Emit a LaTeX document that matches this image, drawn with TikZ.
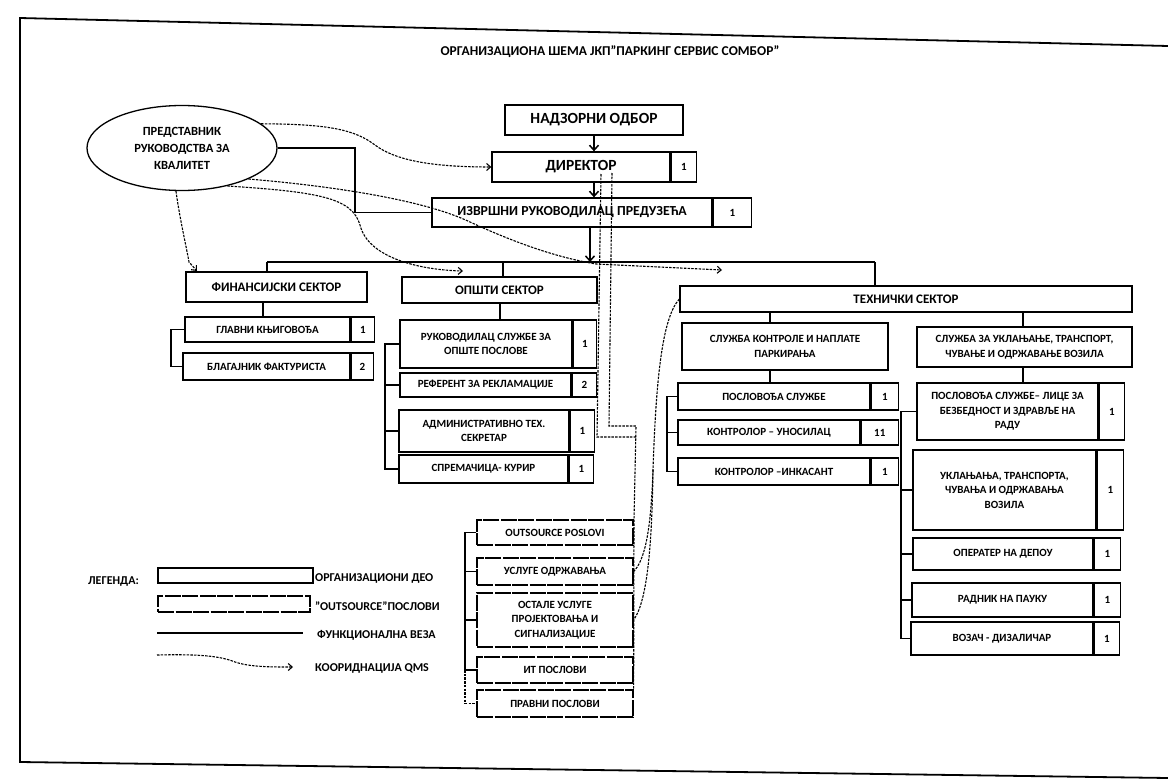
\documentclass[tikz,border=0pt]{standalone}
\usepackage{fontspec}
\setmainfont{Carlito}
\usetikzlibrary{arrows.meta,shapes.geometric}
\newcommand\nbox[8]{%
  \node[box, minimum width=#4pt, minimum height=#5pt] (#1) at (#2,#3) {#7};
  \node[numbox, minimum width=#6pt, minimum height=#5pt] (#1n) at (#1.east) {#8};}
\begin{document}
\begin{tikzpicture}[x=1pt,y=-1pt,
  box/.style={draw, line width=1.3pt, inner sep=1pt, align=center, font=\bfseries\fontsize{11}{14.5}\selectfont},
  bigbox/.style={box, font=\bfseries\fontsize{15.5}{17}\selectfont},
  secbox/.style={box, font=\bfseries\fontsize{13}{15}\selectfont},
  numbox/.style={draw, line width=1.3pt, inner sep=0pt, anchor=west, font=\bfseries\fontsize{11}{12}\selectfont},
  outbox/.style={draw, line width=1.3pt, dash pattern=on 16pt off 1.5pt, inner sep=1pt, align=center, font=\bfseries\fontsize{11}{14.5}\selectfont},
  conn/.style={line width=1.5pt},
  arr/.style={conn, -{Straight Barb[length=5pt,width=9pt]}},
  qms/.style={line width=1.1pt, dash pattern=on 2.5pt off 1.2pt},
  qarr/.style={qms, -{Straight Barb[length=4pt,width=7pt]}},
  lbl/.style={anchor=west, inner sep=0pt, font=\bfseries\fontsize{12}{13}\selectfont},
]
\useasboundingbox (0,0) rectangle (1168,784);
\fill[white] (0,0) rectangle (1168,784);
% frame
\draw[line width=1.8pt] (1168,46) -- (20,18) -- (20,762) -- (1168,778);

% title
\node[font=\bfseries\fontsize{13.5}{15}\selectfont] (title) at (610,52) {ОРГАНИЗАЦИОНА ШЕМА ЈКП"ПАРКИНГ СЕРВИС СОМБОР”};

% top management
\node[bigbox, minimum width=178pt, minimum height=30pt] (nad) at (594,120) {НАДЗОРНИ ОДБОР};
\node[bigbox, minimum width=178pt, minimum height=30pt] (dir) at (581,167) {ДИРЕКТОР};
\node[numbox, minimum width=25pt, minimum height=30pt] (dirn) at (dir.east) {1};
\node[box, font=\bfseries\fontsize{13.8}{15}\selectfont, minimum width=280pt, minimum height=29pt] (izv) at (572,212.5) {ИЗВРШНИ РУКОВОДИЛАЦ ПРЕДУЗЕЋА};
\node[numbox, minimum width=38pt, minimum height=29pt] (izvn) at (izv.east) {1};

% quality representative
\node[draw, ellipse, line width=1.3pt, minimum width=190pt, minimum height=85pt, inner sep=0pt, align=center,
      font=\bfseries\fontsize{12.5}{17}\selectfont] (ell) at (182,148) {ПРЕДСТАВНИК\\РУКОВОДСТВА ЗА\\КВАЛИТЕТ};

% sectors
\node[secbox, minimum width=181pt, minimum height=30pt] (fin) at (276.5,287) {ФИНАНСИЈСКИ СЕКТОР};
\node[secbox, minimum width=195pt, minimum height=26pt] (ops) at (499.5,290) {ОПШТИ СЕКТОР};
\node[secbox, minimum width=452pt, minimum height=26pt] (tech) at (906,299) {ТЕХНИЧКИ СЕКТОР};

% financial
\nbox{gk}{267.5}{329.5}{165}{25}{23}{ГЛАВНИ КЊИГОВОЂА}{1}
\nbox{bl}{266.5}{366.5}{167}{27}{22}{БЛАГАЈНИК ФАКТУРИСТА}{2}

% general
\nbox{ruk}{486}{344}{172}{48}{23}{РУКОВОДИЛАЦ СЛУЖБЕ ЗА\\ОПШТЕ ПОСЛОВЕ}{1}
\nbox{ref}{485.5}{385}{171}{24}{24}{РЕФЕРЕНТ ЗА РЕКЛАМАЦИЈЕ}{2}
\nbox{adm}{484}{431}{170}{42}{24}{АДМИНИСТРАТИВНО ТЕХ.\\СЕКРЕТАР}{1}
\nbox{spr}{483.5}{469}{169}{28}{24}{СПРЕМАЧИЦА- КУРИР}{1}

% technical
\node[box, minimum width=206pt, minimum height=47pt] (sk) at (785,346.5) {СЛУЖБА КОНТРОЛЕ И НАПЛАТЕ\\ПАРКИРАЊА};
\node[box, minimum width=215pt, minimum height=40pt] (su) at (1024.5,347) {СЛУЖБА ЗА УКЛАЊАЊЕ, ТРАНСПОРТ,\\ЧУВАЊЕ И ОДРЖАВАЊЕ ВОЗИЛА};
\nbox{pos}{774}{396.5}{192}{27}{27}{ПОСЛОВОЂА СЛУЖБЕ}{1}
\nbox{kun}{769}{432.5}{182}{25}{37}{КОНТРОЛОР – УНОСИЛАЦ}{11}
\nbox{kin}{774}{471.5}{192}{27}{27}{КОНТРОЛОР –ИНКАСАНТ}{1}
\nbox{pl}{1007.5}{411.5}{181}{57}{25}{ПОСЛОВОЂА СЛУЖБЕ– ЛИЦЕ ЗА\\БЕЗБЕДНОСТ И ЗДРАВЉЕ НА\\РАДУ}{1}
\nbox{ukl}{1004.5}{490}{183}{80}{26}{УКЛАЊАЊА, ТРАНСПОРТА,\\ЧУВАЊА И ОДРЖАВАЊА\\ВОЗИЛА}{1}
\nbox{op}{1003}{554}{180}{32}{26}{ОПЕРАТЕР НА ДЕПОУ}{1}
\nbox{rad}{1002.5}{600}{181}{34}{26}{РАДНИК НА ПАУКУ}{1}
\nbox{voz}{1002}{638.5}{182}{33}{25}{ВОЗАЧ - ДИЗАЛИЧАР}{1}

% outsourced
\node[outbox, minimum width=156pt, minimum height=25pt] (o1) at (555,532.5) {OUTSOURCE POSLOVI};
\node[outbox, minimum width=156pt, minimum height=27pt] (o2) at (555,571.5) {УСЛУГЕ ОДРЖАВАЊА};
\node[outbox, minimum width=156pt, minimum height=54pt] (o3) at (555,620) {ОСТАЛЕ УСЛУГЕ\\ПРОЈЕКТОВАЊА И\\СИГНАЛИЗАЦИЈЕ};
\node[outbox, minimum width=156pt, minimum height=26pt] (o4) at (555,670) {ИТ ПОСЛОВИ};
\node[outbox, minimum width=156pt, minimum height=27pt] (o5) at (555,703.5) {ПРАВНИ ПОСЛОВИ};

% ---- functional connections
\coordinate (busJ) at (590,262);
\coordinate (bFin) at (267,262);
\coordinate (bOps) at (503,262);
\coordinate (bTech) at (875,262);
\draw[arr] (nad.south) -- (nad.south |- dir.north);
\draw[arr] (nad.south |- dir.south) -- (nad.south |- izv.north);
\draw[arr] (busJ |- izv.south) -- (busJ);
\draw[conn] (bFin) -- (bTech);
\draw[conn] (bFin) -- (bFin |- fin.north);
\draw[conn] (bOps) -- (bOps |- ops.north);
\draw[conn] (bTech) -- (bTech |- tech.north);
\coordinate (ellK) at (355,0);
\draw[conn] (ell.east) -| (ellK |- izv.west) -- (izv.west);

\coordinate (cFin) at (263,0);
\coordinate (brFin) at (171,0);
\draw[conn] (cFin |- fin.south) -- (cFin |- gk.north);
\draw[conn] (gk.west) -| (brFin |- bl.west) -- (bl.west);

\coordinate (cOps) at (500,0);
\coordinate (brOps) at (385,0);
\draw[conn] (cOps |- ops.south) -- (cOps |- ruk.north);
\draw[conn] (ruk.west) -| (brOps |- spr.west) -- (spr.west);
\draw[conn] (brOps |- ref.west) -- (ref.west);
\draw[conn] (brOps |- adm.west) -- (adm.west);

\coordinate (cSk) at (770,0);
\coordinate (cSu) at (1023,0);
\coordinate (brSk) at (667,0);
\coordinate (brSu) at (901,0);
\draw[conn] (cSk |- tech.south) -- (cSk |- sk.north);
\draw[conn] (cSu |- tech.south) -- (cSu |- su.north);
\draw[conn] (cSk |- sk.south) -- (cSk |- pos.north);
\draw[conn] (cSu |- su.south) -- (cSu |- pl.north);
\draw[conn] (pos.west) -| (brSk |- kin.west) -- (kin.west);
\draw[conn] (brSk |- kun.west) -- (kun.west);
\draw[conn] (pl.west) -| (brSu |- voz.west) -- (voz.west);
\draw[conn] (brSu |- ukl.west) -- (ukl.west);
\draw[conn] (brSu |- op.west) -- (op.west);
\draw[conn] (brSu |- rad.west) -- (rad.west);

\coordinate (brO) at (465,0);
\draw[conn] (o1.west) -| (brO |- o4.west) -- (o4.west);
\draw[conn] (brO |- o2.west) -- (o2.west);
\draw[conn] (brO |- o3.west) -- (o3.west);
\draw[qms] (brO |- o4.west) -- (brO |- o5.west) -- (o5.west);

% ---- QMS coordination
\coordinate (tq) at (722,270);
\coordinate (oq) at (463,271);
\coordinate (fq) at (197,271);
\coordinate (dq1) at (601,174);
\coordinate (dq2) at (612,173);
\draw[qarr] (ell.17) .. controls (330,124) and (355,130) .. (375,145) .. controls (395,160) and (430,167) .. (dir.west);
\draw[qarr] (ell.-25) .. controls (320,185) and (420,198) .. (470,222) .. controls (520,245) and (560,258) .. (596,264) -- (tq);
\draw[qarr] (ell.-40) .. controls (320,192) and (352,198) .. (360,225) .. controls (368,258) and (420,270) .. (oq);
\draw[qarr] (ell.-98) .. controls (180,220) and (186,245) .. (189,262) -- (fq);
\draw[qms] (dq1) -- (597,437) -- (636,437);
\draw[qms] (dq2) -- (609,426) -- (636,426) -- (634,520) -- (o5.north east);
\draw[qms] (tech.west) .. controls (662,318) and (656,380) .. (653,470) .. controls (651,530) and (645,560) .. (o2.east);
\draw[qms] (653,470) .. controls (652,540) and (648,600) .. (o3.east);

% ---- legend
\node[lbl] (lgt) at (88,582) {ЛЕГЕНДА:};
\node[draw, line width=1.3pt, minimum width=155pt, minimum height=15pt, inner sep=0pt] (lg1) at (235.5,575.5) {};
\node[lbl] (lg1t) at (315,578) {ОРГАНИЗАЦИОНИ ДЕО};
\node[draw, line width=1.3pt, dash pattern=on 16pt off 1.5pt, minimum width=152pt, minimum height=16pt, inner sep=0pt] (lg2) at (234,604) {};
\node[lbl] (lg2t) at (315,606) {"OUTSOURCE"ПОСЛОВИ};
\coordinate (lg3a) at (157,633);
\coordinate (lg3b) at (303,633);
\draw[conn] (lg3a) -- (lg3b);
\node[lbl] (lg3t) at (317,635) {ФУНКЦИОНАЛНА ВЕЗА};
\coordinate (lg4a) at (157,655);
\coordinate (lg4b) at (293,667);
\draw[qarr] (lg4a) .. controls (200,654) and (220,656) .. (235,662) .. controls (250,667) and (270,667) .. (lg4b);
\node[lbl] (lg4t) at (315,668) {КООРИДНАЦИЈА QMS};
\end{tikzpicture}
\end{document}
